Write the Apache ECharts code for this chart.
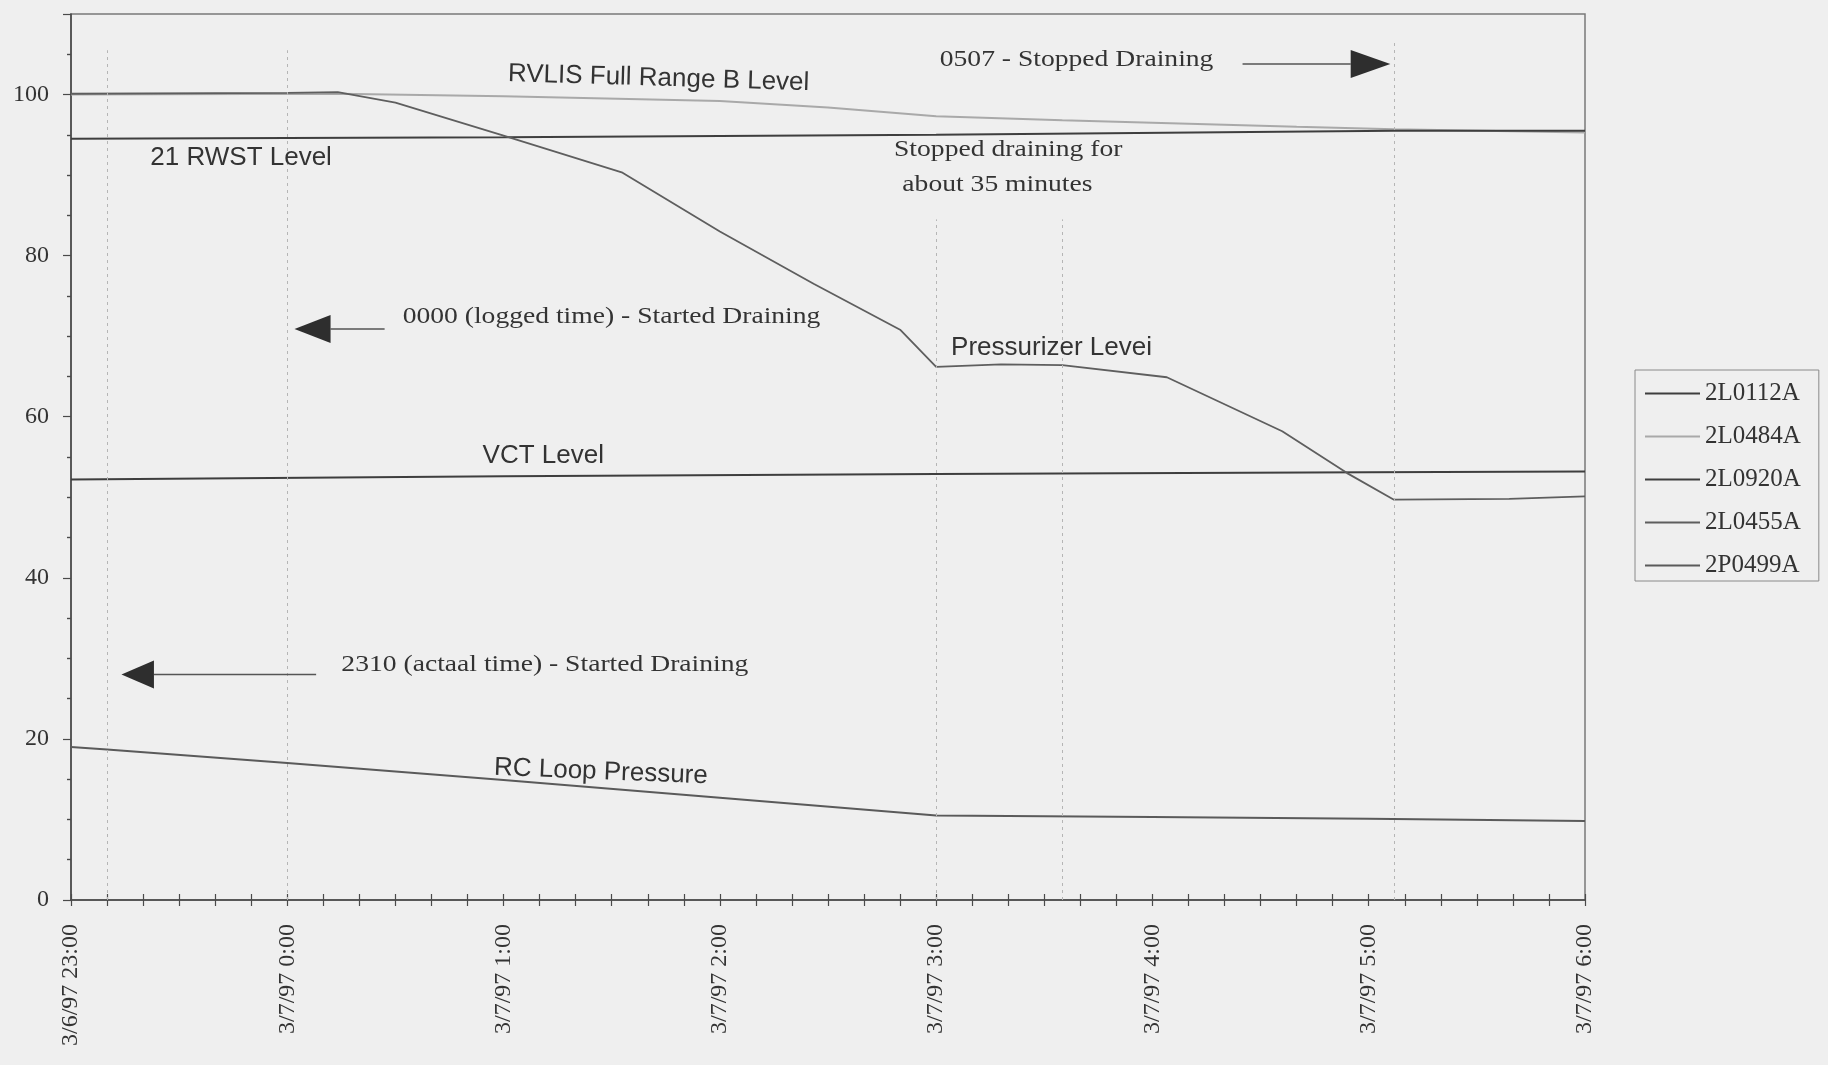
<!DOCTYPE html>
<html>
<head>
<meta charset="utf-8">
<script src="https://cdn.jsdelivr.net/npm/echarts@6/dist/echarts.min.js"></script>
<style>
  html, body { margin: 0; padding: 0; background: #efefef; }
  #chart { width: 1828px; height: 1065px; }
</style>
</head>
<body>
<div id="chart"></div>
<script>
// Time axis: minutes after 3/6/97 23:00, one label per hour
const tickLabels = ['3/6/97 23:00', '3/7/97 0:00', '3/7/97 1:00', '3/7/97 2:00',
                    '3/7/97 3:00', '3/7/97 4:00', '3/7/97 5:00', '3/7/97 6:00'];

// 2L0112A - VCT Level
const vctTimes = ['23:00', '01:00', '03:00', '05:00', '06:00'];
const vctLevel = [52.2, 52.6, 52.9, 53.1, 53.2];

// 2L0484A - RVLIS Full Range B Level
const rvlisTimes = ['23:00', '00:14', '01:00', '02:00', '02:30', '03:00', '03:35', '04:00', '04:40', '05:07', '06:00'];
const rvlisLevel = [100.0, 100.1, 99.8, 99.2, 98.4, 97.3, 96.8, 96.5, 96.0, 95.7, 95.3];

// 2L0920A - 21 RWST Level
const rwstTimes = ['23:00', '01:00', '03:00', '05:07', '06:00'];
const rwstLevel = [94.5, 94.7, 95.0, 95.5, 95.5];

// 2L0455A - Pressurizer Level
const pzrTimes = ['23:00', '00:00', '00:14', '00:30', '01:00', '01:33', '02:00', '02:26', '02:50',
                  '03:00', '03:18', '03:35', '04:04', '04:36', '04:54', '05:07', '05:39', '06:00'];
const pzrLevel = [100.1, 100.2, 100.3, 99.0, 94.9, 90.3, 83.0, 76.5, 70.8,
                  66.2, 66.5, 66.4, 64.9, 58.2, 53.0, 49.7, 49.8, 50.1];

// 2P0499A - RC Loop Pressure
const rcTimes = ['23:00', '23:10', '00:00', '01:00', '02:00', '03:00', '04:00', '05:00', '06:00'];
const rcPressure = [19.0, 18.7, 17.0, 14.9, 12.7, 10.5, 10.3, 10.1, 9.8];

// Event markers (vertical dotted lines)
const eventTimes = ['23:10', '00:00', '03:00', '03:35', '05:07'];
const eventTops = [105.5, 105.5, 84.5, 84.5, 106.5];

function toMin(t) {
  const [h, m] = t.split(':').map(Number);
  return h === 23 ? m : (h + 1) * 60 + m;
}
function pairs(times, vals) {
  return times.map((t, i) => [toMin(t), vals[i]]);
}

const SERIF = '"Liberation Serif", "Times New Roman", serif';
const SANS = '"Liberation Sans", Arial, sans-serif';
const INK = '#333333';

const chart = echarts.init(document.getElementById('chart'), null, { renderer: 'canvas' });

function lineSeries(name, data, color, width) {
  return {
    name, type: 'line', data, symbol: 'none', smooth: false,
    lineStyle: { color, width }, itemStyle: { color },
    silent: true, z: 3
  };
}

const series = [
  lineSeries('2L0112A', pairs(vctTimes, vctLevel), '#3e3e3e', 2),
  lineSeries('2L0484A', pairs(rvlisTimes, rvlisLevel), '#a9a9a9', 2),
  lineSeries('2L0920A', pairs(rwstTimes, rwstLevel), '#3e3e3e', 2),
  lineSeries('2L0455A', pairs(pzrTimes, pzrLevel), '#5e5e5e', 1.8),
  lineSeries('2P0499A', pairs(rcTimes, rcPressure), '#5a5a5a', 2)
];

series[0].markLine = {
  silent: true, symbol: 'none', animation: false,
  label: { show: false },
  lineStyle: { color: '#b5b5b5', type: [3, 4], width: 1 },
  data: eventTimes.map((t, i) => [
    { coord: [toMin(t), 0] },
    { coord: [toMin(t), eventTops[i]] }
  ])
};

const tickStyle = { color: '#4a4a4a', width: 1.2 };

chart.setOption({
  animation: false,
  backgroundColor: '#efefef',
  grid: {
    left: 71, right: 243, top: 14, bottom: 165,
    show: true, borderColor: '#7a7a7a', borderWidth: 1.5,
    backgroundColor: 'transparent'
  },
  legend: {
    orient: 'vertical', left: 1635, top: 370,
    padding: [11, 18, 3, 10],
    icon: 'rect', itemWidth: 55, itemHeight: 2, itemGap: 18,
    borderColor: '#8a8a8a', borderWidth: 1,
    textStyle: { fontFamily: SERIF, fontSize: 25, color: INK, lineHeight: 22 },
    data: series.map(s => s.name)
  },
  xAxis: [{
    type: 'value', min: 0, max: 420, interval: 60, position: 'bottom',
    axisLine: { show: true, onZero: false, lineStyle: { color: '#444', width: 1.5 } },
    axisTick: { show: true, inside: true, length: 6, lineStyle: tickStyle },
    minorTick: { show: true, splitNumber: 6, length: 6, lineStyle: tickStyle },
    splitLine: { show: false },
    axisLabel: {
      rotate: 90, margin: 24, fontFamily: SERIF, fontSize: 24, color: INK,
      formatter: v => tickLabels[Math.round(v / 60)] || ''
    }
  }, {
    type: 'value', min: 0, max: 420, interval: 60, position: 'bottom',
    axisLine: { show: false, onZero: false },
    axisTick: { show: true, inside: false, length: 6, lineStyle: tickStyle },
    minorTick: { show: true, splitNumber: 6, length: 6, lineStyle: tickStyle },
    splitLine: { show: false },
    axisLabel: { show: false }
  }],
  yAxis: [{
    type: 'value', min: 0, max: 110, interval: 20, position: 'left',
    axisLine: { show: true, onZero: false, lineStyle: { color: '#444', width: 1.5 } },
    axisTick: { show: true, inside: false, length: 8, lineStyle: tickStyle },
    minorTick: { show: true, splitNumber: 4, length: 4, lineStyle: tickStyle },
    splitLine: { show: false },
    axisLabel: {
      margin: 22, fontFamily: SERIF, fontSize: 24, color: INK,
      showMaxLabel: false
    }
  }, {
    type: 'value', min: 0, max: 110, interval: 20, position: 'left',
    axisLine: { show: false, onZero: false },
    axisTick: { show: false },
    minorTick: { show: true, splitNumber: 4, length: 4, lineStyle: tickStyle },
    splitLine: { show: false },
    axisLabel: { show: false }
  }],
  series
});

// Annotations placed in data coordinates (clock time, value)
const textNotes = [
  { text: 'RVLIS Full Range B Level', at: ['01:43', 102.0], font: SANS, size: 26, align: 'center', rot: -0.03 },
  { text: '21 RWST Level', at: ['23:22', 92.2], font: SANS, size: 26, align: 'left' },
  { text: '0507 - Stopped Draining', at: ['03:01', 104.3], font: SERIF, size: 23, align: 'left', sx: 1.2 },
  { text: 'Stopped draining for', at: ['03:20', 93.1], font: SERIF, size: 23, align: 'center', sx: 1.2 },
  { text: 'about 35 minutes', at: ['03:17', 88.8], font: SERIF, size: 23, align: 'center', sx: 1.2 },
  { text: '0000 (logged time) - Started Draining', at: ['00:32', 72.4], font: SERIF, size: 23, align: 'left', sx: 1.2 },
  { text: 'Pressurizer Levei', at: ['03:32', 68.6], font: SANS, size: 26, align: 'center' },
  { text: 'VCT Level', at: ['01:11', 55.2], font: SANS, size: 26, align: 'center' },
  { text: '2310 (actaal time) - Started Draining', at: ['00:15', 29.2], font: SERIF, size: 23, align: 'left', sx: 1.2 },
  { text: 'RC Loop Pressure', at: ['01:27', 15.9], font: SANS, size: 26, align: 'center', rot: -0.04 }
];

// Arrows: shaft start, head base, tip (all on one value level)
const arrows = [
  { y: 103.8, from: '04:25', base: '04:55', tip: '05:06' },
  { y: 70.9, from: '00:27', base: '00:12', tip: '00:02' },
  { y: 28.0, from: '00:08', base: '23:23', tip: '23:14' }
];

function px(t, v) {
  return chart.convertToPixel({ xAxisIndex: 0, yAxisIndex: 0 }, [toMin(t), v]);
}

const graphics = [];
textNotes.forEach(n => {
  const p = px(n.at[0], n.at[1]);
  graphics.push({
    type: 'text', x: p[0], y: p[1], rotation: n.rot || 0,
    scaleX: n.sx || 1, scaleY: 1, silent: true, z: 10,
    style: {
      text: n.text, fontFamily: n.font, fontSize: n.size, fill: INK,
      align: n.align, verticalAlign: 'middle'
    }
  });
});
arrows.forEach(a => {
  const s = px(a.from, a.y), b = px(a.base, a.y), t = px(a.tip, a.y);
  const half = 14;
  graphics.push({
    type: 'line', silent: true, z: 10,
    shape: { x1: s[0], y1: s[1], x2: b[0], y2: b[1] },
    style: { stroke: '#555', lineWidth: 1.4 }
  });
  graphics.push({
    type: 'polygon', silent: true, z: 10,
    shape: { points: [[t[0], t[1]], [b[0], b[1] - half], [b[0], b[1] + half]] },
    style: { fill: '#2e2e2e' }
  });
});

chart.setOption({ graphic: graphics });
</script>
</body>
</html>
